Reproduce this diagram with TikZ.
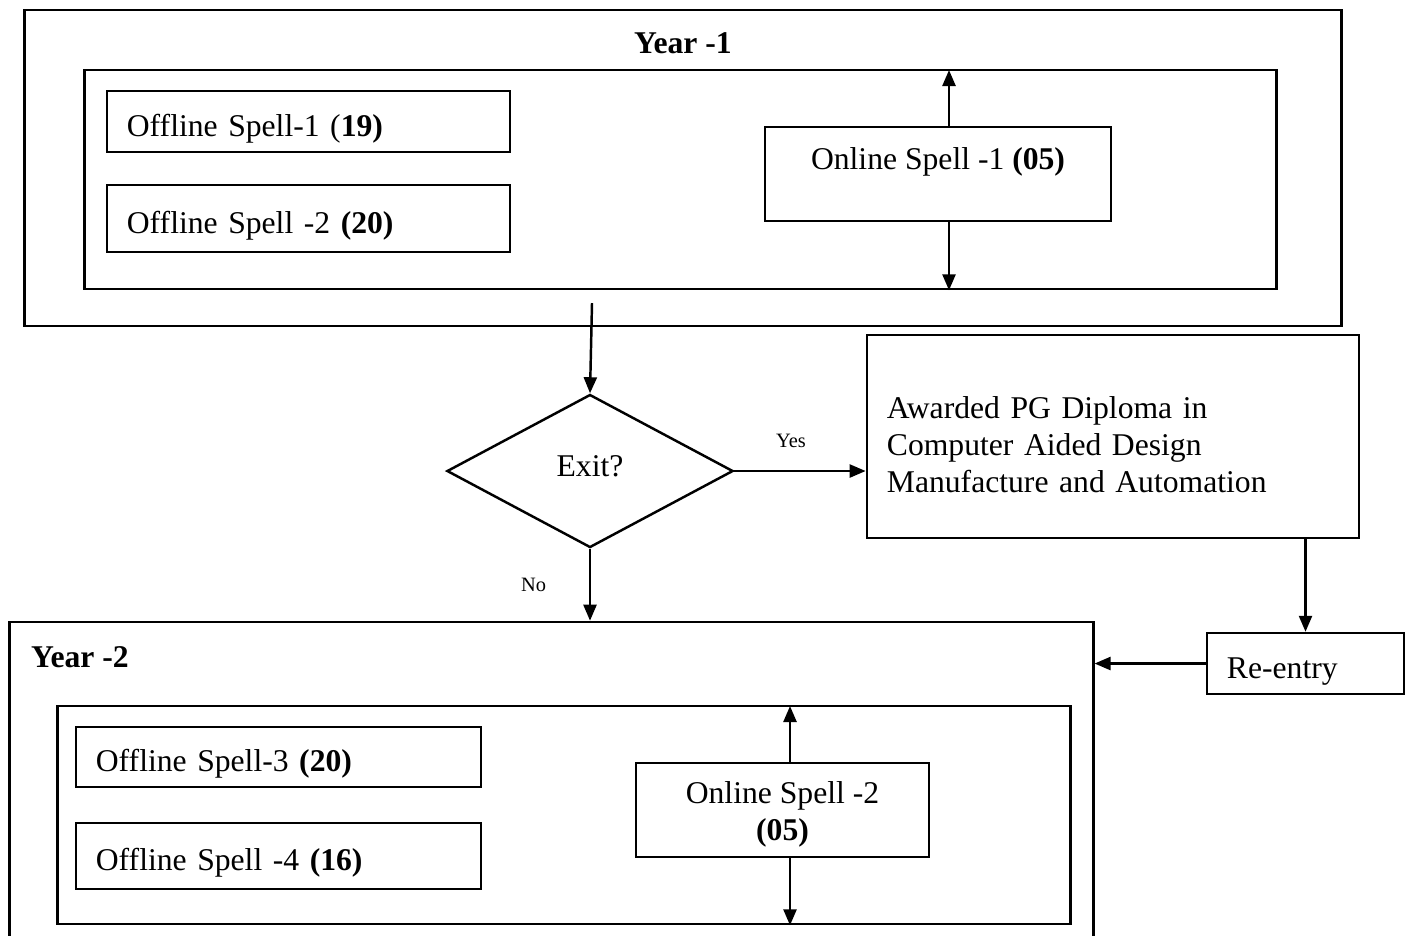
\documentclass[tikz,border=0pt]{standalone}
\usepackage{fontspec}
\setmainfont{Liberation Serif}
\usetikzlibrary{arrows.meta,shapes.geometric}

\begin{document}
\begin{tikzpicture}[x=0.01cm,y=-0.01cm,line width=0.7pt,
                >={Triangle[length=0.16cm,width=0.13cm]},
                font=\fontsize{9}{10.5}\selectfont,
                box/.style={draw,rectangle,inner sep=0pt},
                spell/.style={box,align=left,inner xsep=0.2cm},
                oneliner/.style={text height=0.36cm,text depth=0.07cm},
                small label/.style={font=\fontsize{5.8}{7}\selectfont}]
	\clip (0,0) rectangle (1410,935);

	% year 1
	\node[box,minimum width=13.16cm,minimum height=3.16cm] (year1) at (683,168) {};
	\node[font=\fontsize{9}{10.5}\selectfont\bfseries] (title1) at (683,43) {Year -1};
	\node[box,minimum width=11.91cm,minimum height=2.19cm] (inner1) at (680.5,179.5) {};
	\node[spell,oneliner,text width=3.63cm,minimum height=0.61cm] (off1) at (308.5,121.5) {Offline Spell-1 (\textbf{19)}};
	\node[spell,oneliner,text width=3.63cm,minimum height=0.67cm] (off2) at (308.5,218.5) {Offline Spell -2 \textbf{(20)}};
	\node[box,align=center,minimum width=3.46cm,minimum height=0.94cm] (on1) at (938,174) {\rule{0pt}{0.27cm}Online Spell -1 \textbf{(05)}\\ \mbox{}};

	% decision
	\node[draw,diamond,inner sep=0pt,text depth=0.1cm,minimum width=2.86cm,minimum height=1.53cm] (exit) at (590,471) {Exit?};
	\node[spell,text width=4.52cm,minimum height=2.03cm] (award) at (1113,436.5) {\rule{0pt}{0.38cm}Awarded PG Diploma in\\Computer Aided Design\\Manufacture and Automation};
	\node[spell,oneliner,text width=1.57cm,minimum height=0.61cm] (reentry) at (1305.5,663.5) {Re-entry};

	% year 2
	\node[box,minimum width=10.83cm,minimum height=3.38cm] (year2) at (551.5,791) {};
	\node[anchor=west,inner sep=0pt,font=\fontsize{9}{10.5}\selectfont\bfseries] (title2) at (30,657) {Year -2};
	\node[box,minimum width=10.12cm,minimum height=2.18cm] (inner2) at (564,815) {};
	\node[spell,oneliner,text width=3.65cm,minimum height=0.60cm] (off3) at (278.5,757) {Offline Spell-3 \textbf{(20)}};
	\node[spell,oneliner,text width=3.65cm,minimum height=0.66cm] (off4) at (278.5,856) {Offline Spell -4 \textbf{(16)}};
	\node[box,align=center,minimum width=2.93cm,minimum height=0.94cm] (on2) at (782.5,810) {\rule{0pt}{0.31cm}Online Spell -2\\\textbf{(05)}};

	\coordinate (up1) at (949,70);
	\coordinate (up2) at (790,706);
	\coordinate (start) at (592,303);

	\path[->]
	(on1.north -| up1) edge (up1)
	(on1.south -| up1) edge (up1 |- inner1.south)
	(on2.north -| up2) edge (up2)
	(on2.south -| up2) edge (up2 |- inner2.south)
	(start) edge (exit.north)
	(exit.east) edge node[small label,above=0.1cm,xshift=-0.09cm] {Yes} (exit.east -| award.west)
	(exit.south) edge node[small label,left=0.31cm] {No} (exit.south |- year2.north)
	(reentry.north |- award.south) edge (reentry.north)
	(reentry.west) edge (reentry.west -| year2.east)
;
\end{tikzpicture}
\end{document}
